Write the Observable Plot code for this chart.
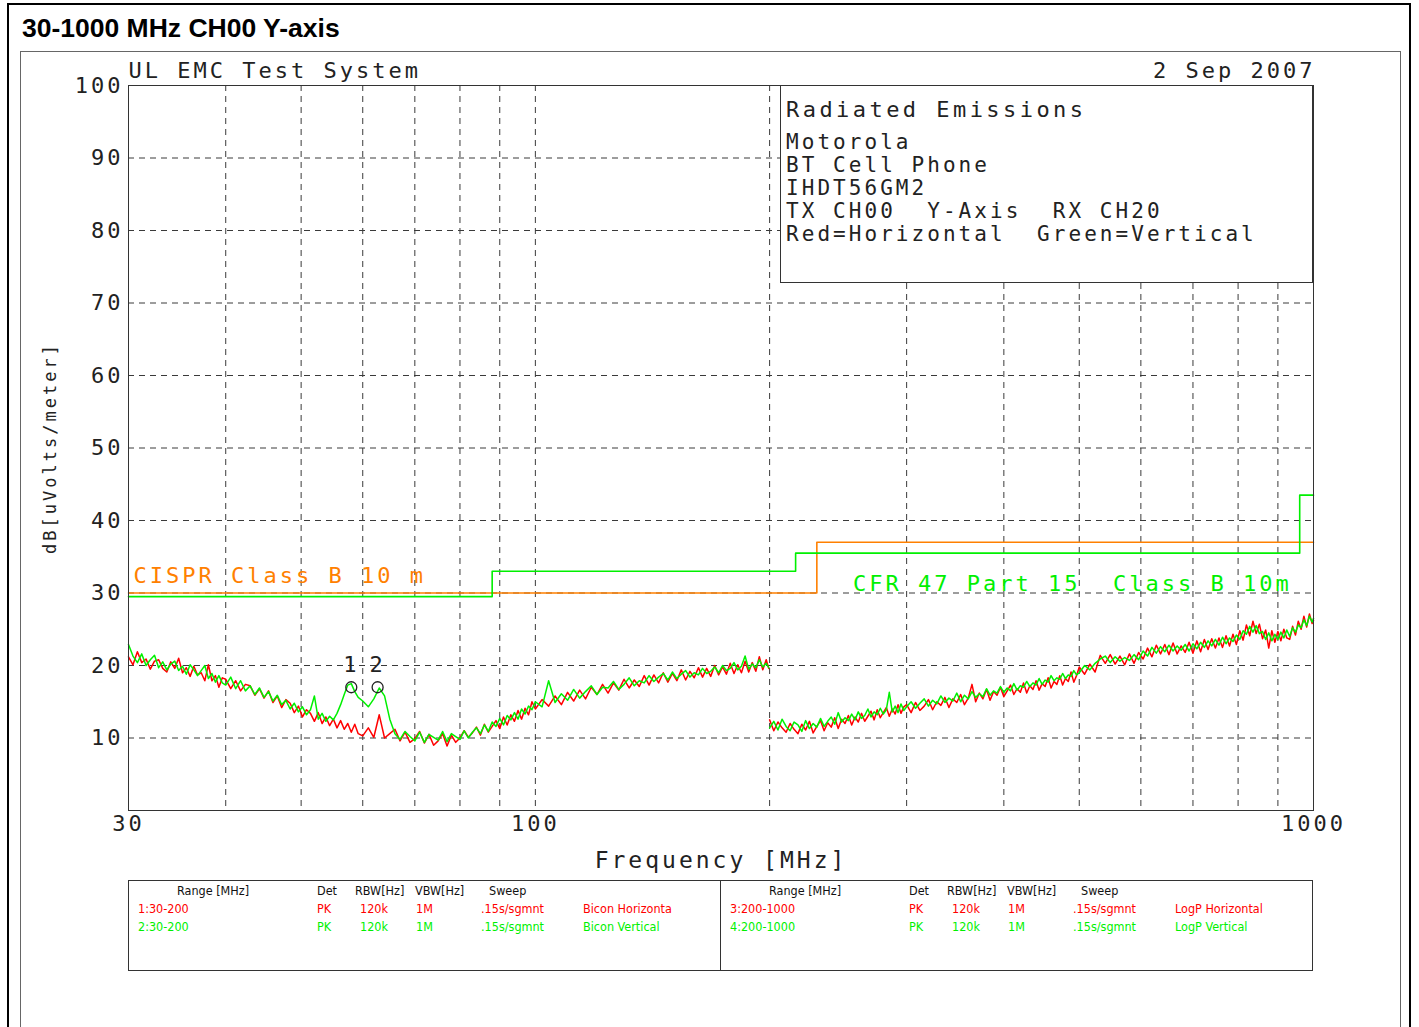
<!DOCTYPE html>
<html>
<head>
<meta charset="utf-8">
<script src="https://cdn.jsdelivr.net/npm/d3@7"></script>
<script src="https://cdn.jsdelivr.net/npm/@observablehq/plot@0.6"></script>
<style>
  body { margin: 0; background: #fff; width: 1419px; height: 1027px; overflow: hidden; position: relative; }
  #chart { position: absolute; left: 20px; top: 51px; }
  #overlay { position: absolute; left: 0; top: 0; pointer-events: none; }
  svg text { white-space: pre; }
  .mono { font-family: "DejaVu Sans Mono", monospace; font-size: 21px; letter-spacing: 3.05px; fill: #222; }
  .mono.big { font-size: 22px; letter-spacing: 3.45px; }
  .tbl { font-family: "DejaVu Sans Condensed", "DejaVu Sans", sans-serif; font-stretch: condensed; font-size: 12.5px; }
</style>
</head>
<body>
<div id="chart"></div>
<svg id="overlay" width="1419" height="1027"></svg>
<script>
// ---------- data ----------
const RED = "#ff0000", GREEN = "#00f000", ORANGE = "#ff8000";

const gridFreq = [40, 50, 60, 70, 80, 90, 100, 200, 300, 400, 500, 600, 700, 800, 900];
const gridDb = [10, 20, 30, 40, 50, 60, 70, 80, 90];
const xTicks = [30, 100, 1000];
const yTicks = [10, 20, 30, 40, 50, 60, 70, 80, 90, 100];

// Limit lines (step-after)
const cisprFreq = [30, 230, 1000];
const cisprDb = [30, 37, 37];
const fccFreq = [30, 88, 216, 960, 1000];
const fccDb = [29.5, 33.0, 35.5, 43.5, 43.5];

// Band 1: 30-200 MHz (Bicon)
const seg1Freq = [
  30,30.4,30.8,31.2,31.6,32,32.4,32.8,33.2,33.6,34,34.4,34.8,35.2,35.6,36,36.4,36.8,37.2,37.6,38,38.4,38.8,39.2,39.6,
  40,40.6,41.2,41.8,42.4,43,43.6,44.2,44.8,45.4,46,46.6,47.2,47.8,48.4,49,49.6,50.2,50.8,51.4,52,52.6,53.2,53.8,54.4,55,55.6,56.2,56.8,57.4,58,58.6,59.2,
  60,61,62,63,64,65,66,67,68,69,70,71,72,73,74,75,76,77,78,79,80,81,82,83,84,85,86,87,88,89,90,91,92,93,94,95,96,97,98,99,
  100,102,104,106,108,110,112,114,116,118,120,122,124,126,128,130,132,134,136,138,140,142,144,146,148,150,152,154,156,158,160,162,164,166,168,170,172,174,176,178,180,182,184,186,188,190,192,194,196,198,199.5];
const seg1Red = [
  21.2,20.1,21.9,20.4,20.9,19.5,20.6,20.8,19.6,19.1,20.5,19.6,21.0,19.0,19.7,18.5,19.9,18.7,19.0,17.9,20.1,17.9,18.6,17.0,18.3,
  18.1,16.8,17.9,16.5,17.4,17.2,15.9,16.8,15.5,16.5,14.9,15.8,14.2,15.3,14.8,13.5,14.4,12.9,13.9,13.4,12.3,13.5,12.0,12.9,11.7,12.6,11.4,12.4,11.2,12.0,10.8,11.9,10.6,
  10.3,11.4,10.1,13.2,10.0,10.6,11.2,9.6,10.8,9.4,9.9,10.9,9.3,10.5,9.0,9.6,10.6,8.9,10.4,9.4,10.0,11.0,10.1,10.7,11.5,10.4,11.9,10.8,11.6,12.4,11.3,12.9,11.8,13.2,12.3,13.8,12.6,14.1,13.2,15.0,
  14.0,15.3,14.4,15.8,14.6,16.3,15.1,16.6,15.4,17.0,16.0,17.4,16.2,17.6,16.6,18.1,16.9,18.0,17.1,18.6,17.3,18.7,17.6,19.0,17.7,18.9,17.9,19.4,18.0,19.2,18.3,19.7,18.4,19.6,18.5,20.0,18.7,19.8,18.8,20.3,18.9,20.1,19.0,20.6,19.1,20.4,19.2,21.2,19.4,20.8,19.6];
const seg1Green = [
  22.9,21.3,20.4,21.6,20.0,20.8,21.4,19.7,20.5,19.4,20.2,20.6,19.3,19.9,18.8,20.1,19.4,18.6,19.3,20.0,18.2,18.9,17.7,18.6,17.6,
  17.3,18.4,16.8,17.9,16.5,17.2,16.0,16.9,15.6,16.4,15.1,15.9,14.6,15.2,14.0,14.8,13.6,14.3,13.2,13.9,15.8,12.6,13.4,12.3,13.0,12.5,13.4,14.6,16.0,17.3,17.5,16.4,15.6,
  15.1,14.3,15.4,16.9,15.8,12.6,10.6,9.8,10.9,10.2,9.6,10.8,9.4,10.5,10.1,9.7,10.9,9.5,10.6,10.2,9.8,11.0,10.0,10.8,11.4,10.6,11.8,10.9,12.2,11.6,12.7,11.8,13.1,12.5,13.5,12.6,14.0,13.3,14.4,13.9,
  15.0,14.3,17.9,14.9,16.1,15.2,16.7,15.5,16.4,17.2,16.0,17.0,16.9,17.8,16.7,17.4,18.3,17.2,17.9,17.6,18.6,17.8,18.4,18.9,18.0,19.1,18.2,18.8,19.3,18.4,19.0,18.7,19.6,18.9,19.2,19.8,19.0,20.0,19.3,19.6,20.4,19.4,19.9,21.3,19.5,20.2,19.7,20.8,19.8,20.3,19.7];

// Band 2: 200-1000 MHz (LogP)
const seg2Freq = [
  200,202.5,205,207.5,210,212.5,215,217.5,220,222.5,225,227.5,230,232.5,235,237.5,240,242.5,245,247.5,250,252.5,255,257.5,260,262.5,265,267.5,270,272.5,275,277.5,280,282.5,285,287.5,290,292.5,295,297.5,
  300,304,308,312,316,320,324,328,332,336,340,344,348,352,356,360,364,368,372,376,380,384,388,392,396,400,404,408,412,416,420,424,428,432,436,440,444,448,452,456,460,464,468,472,476,480,484,488,492,496,
  500,508,516,524,532,540,548,556,564,572,580,588,596,604,612,620,628,636,644,652,660,668,676,684,692,700,708,716,724,732,740,748,756,764,772,780,788,796,804,812,820,828,836,844,852,860,868,876,884,892,900,908,916,924,932,940,948,956,964,972,980,988,996,1000];
const seg2Red = [
  12.5,11.0,12.2,11.4,10.8,12.0,11.2,10.6,11.9,11.1,12.3,10.7,11.6,12.4,11.0,12.1,11.5,12.8,11.3,12.6,12.0,13.1,11.8,12.9,12.2,13.4,12.3,13.0,13.7,12.5,13.9,12.8,13.5,14.2,13.0,14.0,13.3,14.6,13.4,14.3,
  14.6,13.5,14.9,13.8,14.4,15.3,13.9,15.0,14.5,15.6,14.2,15.4,14.9,16.0,14.6,15.5,17.4,15.0,16.2,15.4,16.7,15.2,16.4,15.9,17.0,15.7,16.5,17.3,16.0,16.8,16.3,17.6,16.2,17.2,16.7,17.9,16.6,17.5,17.1,18.3,16.9,17.8,17.4,18.6,17.3,18.2,17.8,19.1,17.7,18.6,
  19.8,18.8,20.2,19.1,21.4,20.3,21.5,20.2,21.3,20.1,21.6,20.3,21.8,20.9,22.4,21.2,22.8,21.6,22.9,21.5,23.1,21.6,22.7,21.8,23.2,21.7,23.4,21.9,23.6,22.2,23.7,22.4,23.8,22.5,24.1,22.7,24.3,22.9,24.8,23.5,25.6,24.1,26.1,24.4,25.7,23.7,24.9,22.4,24.8,23.2,24.7,23.4,25.0,23.8,23.6,25.4,24.2,26.1,25.0,26.8,25.3,27.1,25.8,26.2];
const seg2Green = [
  11.4,12.3,11.1,12.6,11.6,11.0,12.2,11.8,10.9,12.4,11.3,12.0,11.5,12.7,11.6,12.3,12.9,11.9,13.5,12.2,12.8,12.4,13.3,12.5,13.6,12.7,13.1,14.0,12.9,13.6,13.2,14.1,13.3,13.9,16.3,13.6,14.4,13.5,14.7,13.8,
  14.3,15.0,14.1,14.8,15.4,14.4,15.2,14.7,15.8,14.9,15.5,15.1,16.2,15.0,15.9,15.4,16.4,15.6,16.1,15.7,16.8,15.9,16.5,16.2,17.1,16.3,16.9,16.5,17.5,16.6,17.2,17.0,17.8,17.1,17.6,17.3,18.2,17.4,18.0,17.7,18.6,17.9,18.3,18.1,18.9,18.2,18.7,18.5,19.3,18.7,
  19.0,20.0,19.4,20.3,20.9,21.3,20.4,21.2,20.6,21.1,20.7,21.5,20.8,22.0,21.3,22.5,21.7,22.6,21.9,22.8,22.0,22.7,22.1,22.9,22.0,23.0,22.3,23.2,22.5,23.4,22.7,23.6,22.8,23.9,23.0,23.8,23.3,24.2,23.6,24.8,24.3,25.4,24.6,25.5,24.4,24.7,23.6,24.5,23.4,24.3,23.6,24.6,23.8,24.9,24.0,25.2,24.6,25.6,25.2,26.3,25.5,26.8,26.0,26.5];

// Markers
const markerLabels = ["1", "2"];
const markerFreq = [58.0, 62.7];
const markerDb = [17.0, 17.0];

// Limit labels
const limitLabelText = ["CISPR Class B 10 m", "CFR 47 Part 15  Class B 10m"];
const limitLabelFreq = [30.45, 256];
const limitLabelDb = [32.4, 31.3];

// Header / info texts
const headerLeft = "UL EMC Test System";
const headerRight = "2 Sep 2007";
const xLabel = "Frequency [MHz]";
const yLabel = "dB[uVolts/meter]";
const titleText = "30-1000 MHz CH00 Y-axis";
const infoLines = ["Radiated Emissions", "Motorola", "BT Cell Phone", "IHDT56GM2", "TX CH00  Y-Axis  RX CH20", "Red=Horizontal  Green=Vertical"];

// Bottom table
const tableHeader = ["Range [MHz]", "Det", "RBW[Hz]", "VBW[Hz]", "Sweep"];
const tableLeftRows = [
  ["1:30-200", "PK", "120k", "1M", ".15s/sgmnt", "Bicon Horizonta"],
  ["2:30-200", "PK", "120k", "1M", ".15s/sgmnt", "Bicon Vertical"]
];
const tableRightRows = [
  ["3:200-1000", "PK", "120k", "1M", ".15s/sgmnt", "LogP Horizontal"],
  ["4:200-1000", "PK", "120k", "1M", ".15s/sgmnt", "LogP Vertical"]
];
const tableRowColors = [RED, GREEN];

// ---------- build tables ----------
const cisprRows = cisprFreq.map((f, i) => ({f, db: cisprDb[i]}));
const fccRows = fccFreq.map((f, i) => ({f, db: fccDb[i]}));
const seg1 = seg1Freq.map((f, i) => ({f, red: seg1Red[i], green: seg1Green[i]}));
const seg2 = seg2Freq.map((f, i) => ({f, red: seg2Red[i], green: seg2Green[i]}));
const markers = markerLabels.map((label, i) => ({label, f: markerFreq[i], db: markerDb[i]}));
const limitLabels = limitLabelText.map((t, i) => ({t, f: limitLabelFreq[i], db: limitLabelDb[i]}));

const gridStyle = {stroke: "#3a3a3a", strokeDasharray: "6,5", strokeWidth: 1};

const chart = Plot.plot({
  width: 1380,
  height: 824,
  marginLeft: 108,
  marginRight: 87,
  marginTop: 34,
  marginBottom: 65,
  x: {type: "log", domain: [30, 1000], label: null},
  y: {domain: [0, 100], label: null},
  style: "font-family: 'DejaVu Sans Mono', monospace; font-size: 22px; letter-spacing: 3px; background: transparent; overflow: visible; color: #222;",
  marks: [
    Plot.ruleX(gridFreq, {...gridStyle}),
    Plot.ruleY(gridDb, {...gridStyle}),
    Plot.line(cisprRows, {x: "f", y: "db", curve: "step-after", stroke: ORANGE, strokeWidth: 1.6}),
    Plot.line(fccRows, {x: "f", y: "db", curve: "step-after", stroke: GREEN, strokeWidth: 1.6}),
    Plot.line(seg1, {x: "f", y: "red", stroke: RED, strokeWidth: 1.5}),
    Plot.line(seg2, {x: "f", y: "red", stroke: RED, strokeWidth: 1.5}),
    Plot.line(seg1, {x: "f", y: "green", stroke: GREEN, strokeWidth: 1.5}),
    Plot.line(seg2, {x: "f", y: "green", stroke: GREEN, strokeWidth: 1.5}),
    Plot.dot(markers, {x: "f", y: "db", r: 5.5, stroke: "#222", strokeWidth: 1.3}),
    Plot.text(markers, {x: "f", y: "db", text: "label", dy: -22, fontSize: 22, fill: "#222"}),
    Plot.text(limitLabels.slice(0, 1), {x: "f", y: "db", text: "t", textAnchor: "start", fill: ORANGE, fontSize: 22}),
    Plot.text(limitLabels.slice(1), {x: "f", y: "db", text: "t", textAnchor: "start", fill: GREEN, fontSize: 22}),
    Plot.frame({stroke: "#333", strokeWidth: 1}),
    Plot.axisY(yTicks, {tickSize: 0, tickPadding: 5, fontSize: 22}),
    Plot.axisX(xTicks, {tickSize: 0, tickPadding: 5, fontSize: 22, tickFormat: d => String(d)}),
    Plot.text([headerLeft], {text: d => d, frameAnchor: "top-left", textAnchor: "start", lineAnchor: "middle", dy: -15, fontSize: 22, fill: "#222"}),
    Plot.text([headerRight], {text: d => d, frameAnchor: "top-right", textAnchor: "end", lineAnchor: "middle", dx: 2, dy: -15, fontSize: 22, fill: "#222"}),
    Plot.text([xLabel], {text: d => d, frameAnchor: "bottom", textAnchor: "middle", lineAnchor: "middle", dy: 50, fontSize: 23, fill: "#222"}),
    Plot.text([yLabel], {text: d => d, frameAnchor: "left", textAnchor: "middle", lineAnchor: "middle", rotate: -90, dx: -78, fontSize: 17, fill: "#222"})
  ]
});
document.getElementById("chart").appendChild(chart);

// ---------- overlay: page frame, title, info box, table ----------
const ov = d3.select("#overlay");
ov.append("rect").attr("x", 8).attr("y", 4).attr("width", 1402).attr("height", 1100)
  .attr("fill", "none").attr("stroke", "#000").attr("stroke-width", 2);
ov.append("rect").attr("x", 20.5).attr("y", 51.5).attr("width", 1380).attr("height", 1100)
  .attr("fill", "none").attr("stroke", "#666").attr("stroke-width", 1);
ov.append("text").text(titleText).attr("x", 22).attr("y", 37)
  .style("font-family", "'Liberation Sans', Arial, sans-serif").style("font-weight", "bold").style("font-size", "26.5px").attr("fill", "#000");

// info box
ov.append("rect").attr("x", 780.5).attr("y", 85.5).attr("width", 532).attr("height", 197)
  .attr("fill", "#fff").attr("stroke", "#333").attr("stroke-width", 1);
const infoY = [117, 149, 172, 195, 218, 241];
infoLines.forEach((t, i) => {
  ov.append("text").attr("class", i === 0 ? "mono big" : "mono").attr("x", 786).attr("y", infoY[i]).text(t);
});

// table
ov.append("rect").attr("x", 128.5).attr("y", 880.5).attr("width", 1184).attr("height", 90)
  .attr("fill", "#fff").attr("stroke", "#333").attr("stroke-width", 1);
ov.append("line").attr("x1", 720.5).attr("x2", 720.5).attr("y1", 880).attr("y2", 971)
  .attr("stroke", "#333").attr("stroke-width", 1);
const headX = [177, 317, 355, 415, 489];
const rowX = [138, 317, 360, 416, 481, 583];
const rowY = [913, 931];
[0, 592].forEach(off => {
  tableHeader.forEach((h, j) => {
    ov.append("text").attr("class", "tbl").attr("x", headX[j] + off).attr("y", 895).attr("fill", "#111").text(h);
  });
});
[[tableLeftRows, 0], [tableRightRows, 592]].forEach(([rows, off]) => {
  rows.forEach((r, i) => {
    r.forEach((cell, j) => {
      ov.append("text").attr("class", "tbl").attr("x", rowX[j] + off).attr("y", rowY[i])
        .attr("fill", tableRowColors[i]).text(cell);
    });
  });
});
</script>
</body>
</html>
